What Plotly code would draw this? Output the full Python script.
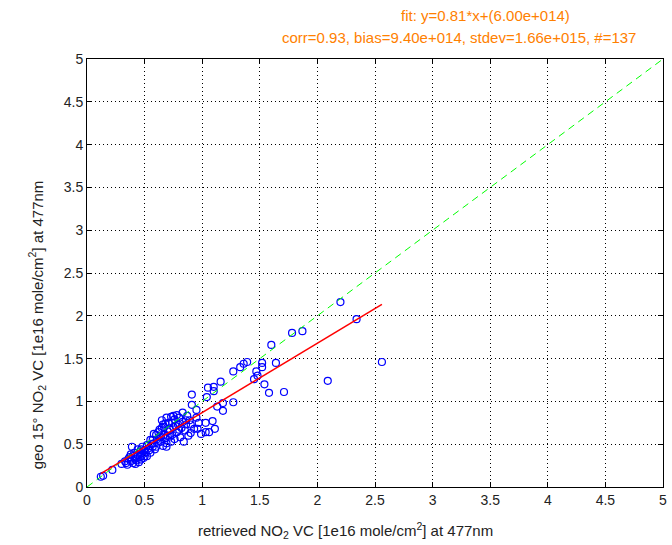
import plotly.graph_objects as go

# retrieved NO2 VC (x) and geo 15° NO2 VC (y), units 1e16 molec/cm2
x_vals = [0.12, 0.14, 0.22, 0.30, 0.33, 0.34, 0.36, 0.37, 0.38, 0.39, 0.40, 0.40, 0.41, 0.42, 0.43,
          0.44, 0.44, 0.45, 0.46, 0.46, 0.47, 0.48, 0.48, 0.49, 0.50, 0.51, 0.52, 0.52, 0.53, 0.54,
          0.55, 0.55, 0.57, 0.57, 0.58, 0.59, 0.60, 0.60, 0.61, 0.62, 0.62, 0.63, 0.64, 0.64, 0.65,
          0.65, 0.66, 0.66, 0.67, 0.67, 0.68, 0.69, 0.69, 0.69, 0.70, 0.71, 0.72, 0.72, 0.73, 0.73,
          0.74, 0.74, 0.75, 0.76, 0.76, 0.78, 0.78, 0.79, 0.80, 0.80, 0.81, 0.83, 0.83, 0.84, 0.85,
          0.86, 0.87, 0.88, 0.89, 0.90, 0.90, 0.91, 0.91, 0.93, 0.95, 0.95, 0.96, 0.97, 0.99, 1.03,
          1.03, 1.04, 1.05, 1.06, 1.09, 1.10, 1.10, 1.11, 1.13, 1.16, 1.18, 1.18, 1.27, 1.27, 1.33,
          1.36, 1.39, 1.45, 1.47, 1.48, 1.52, 1.52, 1.54, 1.58, 1.60, 1.64, 1.71, 1.78, 1.87, 2.09,
          2.20, 2.34, 2.56, 0.35, 0.38, 0.42, 0.47, 0.50, 0.56, 0.58, 0.63, 0.68, 0.70, 0.75, 0.77,
          0.82, 0.86]
y_vals = [0.12, 0.13, 0.20, 0.27, 0.30, 0.28, 0.33, 0.35, 0.30, 0.47, 0.36, 0.28, 0.40, 0.33, 0.31,
          0.44, 0.37, 0.29, 0.41, 0.35, 0.32, 0.47, 0.38, 0.34, 0.43, 0.40, 0.49, 0.36, 0.45, 0.43,
          0.55, 0.40, 0.47, 0.55, 0.51, 0.44, 0.61, 0.47, 0.56, 0.64, 0.52, 0.67, 0.53, 0.59, 0.78,
          0.69, 0.73, 0.48, 0.70, 0.61, 0.57, 0.81, 0.51, 0.47, 0.65, 0.75, 0.67, 0.59, 0.82, 0.53,
          0.75, 0.61, 0.70, 0.79, 0.56, 0.84, 0.64, 0.73, 0.81, 0.67, 0.58, 0.87, 0.76, 0.53, 0.66,
          0.73, 0.83, 0.60, 0.78, 0.63, 0.73, 1.08, 0.96, 0.68, 0.90, 0.81, 0.68, 0.75, 0.62, 0.75,
          0.64, 1.05, 1.16, 0.64, 0.77, 1.17, 1.12, 0.68, 0.94, 1.23, 0.98, 0.89, 0.99, 1.35, 1.40,
          1.44, 1.46, 1.26, 1.35, 1.30, 1.40, 1.45, 1.20, 1.10, 1.66, 1.45, 1.11, 1.80, 1.82, 1.24,
          2.16, 1.96, 1.46, 0.26, 0.38, 0.27, 0.44, 0.36, 0.50, 0.62, 0.58, 0.74, 0.60, 0.83, 0.71,
          0.69, 0.78]

fit_slope = 0.81
fit_offset = 0.06  # 6.00e+14 / 1e16
one_to_one = [0, 5]
tick_vals = [0, 0.5, 1, 1.5, 2, 2.5, 3, 3.5, 4, 4.5, 5]
tick_text = ["0", "0.5", "1", "1.5", "2", "2.5", "3", "3.5", "4", "4.5", "5"]
title_line1 = "fit: y=0.81*x+(6.00e+014)"
title_line2 = "corr=0.93, bias=9.40e+014, stdev=1.66e+015, #=137"
x_label = "retrieved NO<sub>2</sub> VC [1e16 mole/cm<sup>2</sup>] at 477nm"
y_label = "geo 15° NO<sub>2</sub> VC [1e16 mole/cm<sup>2</sup>] at 477nm"

fx = [min(x_vals), max(x_vals)]
fy = [fit_slope * v + fit_offset for v in fx]

FONT = "Liberation Sans, Arial, sans-serif"
fig = go.Figure()
fig.add_trace(go.Scatter(x=x_vals, y=y_vals, mode="markers",
                         marker=dict(symbol="circle-open", size=7, color="#0000FF",
                                     line=dict(width=1.2, color="#0000FF")),
                         showlegend=False))
fig.add_trace(go.Scatter(x=one_to_one, y=one_to_one, mode="lines",
                         line=dict(color="#00FF00", width=1, dash="7px,5px"), showlegend=False))
fig.add_trace(go.Scatter(x=fx, y=fy, mode="lines",
                         line=dict(color="#FF0000", width=1.5), showlegend=False))

axis_common = dict(range=[0, 5], tickvals=tick_vals, ticktext=tick_text,
                   showline=True, linecolor="black", linewidth=1, mirror="ticks",
                   ticks="inside", ticklen=5, tickcolor="black",
                   showgrid=True, gridcolor="black", gridwidth=1, griddash="1px,3px",
                   zeroline=False, tickfont=dict(family=FONT, size=14, color="#222"),
                   fixedrange=True)

fig.update_layout(
    width=672, height=545,
    margin=dict(l=87, r=5, t=59, b=58),
    paper_bgcolor="white", plot_bgcolor="white",
    font=dict(family=FONT, size=14, color="#222"),
    xaxis=dict(**axis_common),
    yaxis=dict(**axis_common),
    annotations=[
        dict(text=title_line1, xref="paper", yref="paper", x=(488 - 87) / 580, y=(487 - 15) / 428,
             xanchor="center", yanchor="middle", showarrow=False,
             font=dict(family=FONT, size=15, color="#FF8000")),
        dict(text=title_line2, xref="paper", yref="paper", x=(462 - 87) / 580, y=(487 - 38) / 428,
             xanchor="center", yanchor="middle", showarrow=False,
             font=dict(family=FONT, size=15, color="#FF8000")),
        dict(text=x_label, xref="paper", yref="paper", x=(347 - 87) / 580, y=-(530 - 487) / 428,
             xanchor="center", yanchor="middle", showarrow=False,
             font=dict(family=FONT, size=15, color="#222")),
        dict(text=y_label, xref="paper", yref="paper", x=-(87 - 36) / 580, y=(487 - 325) / 428,
             xanchor="center", yanchor="middle", showarrow=False, textangle=-90,
             font=dict(family=FONT, size=15, color="#222")),
    ],
)
fig.write_html("out.html")
